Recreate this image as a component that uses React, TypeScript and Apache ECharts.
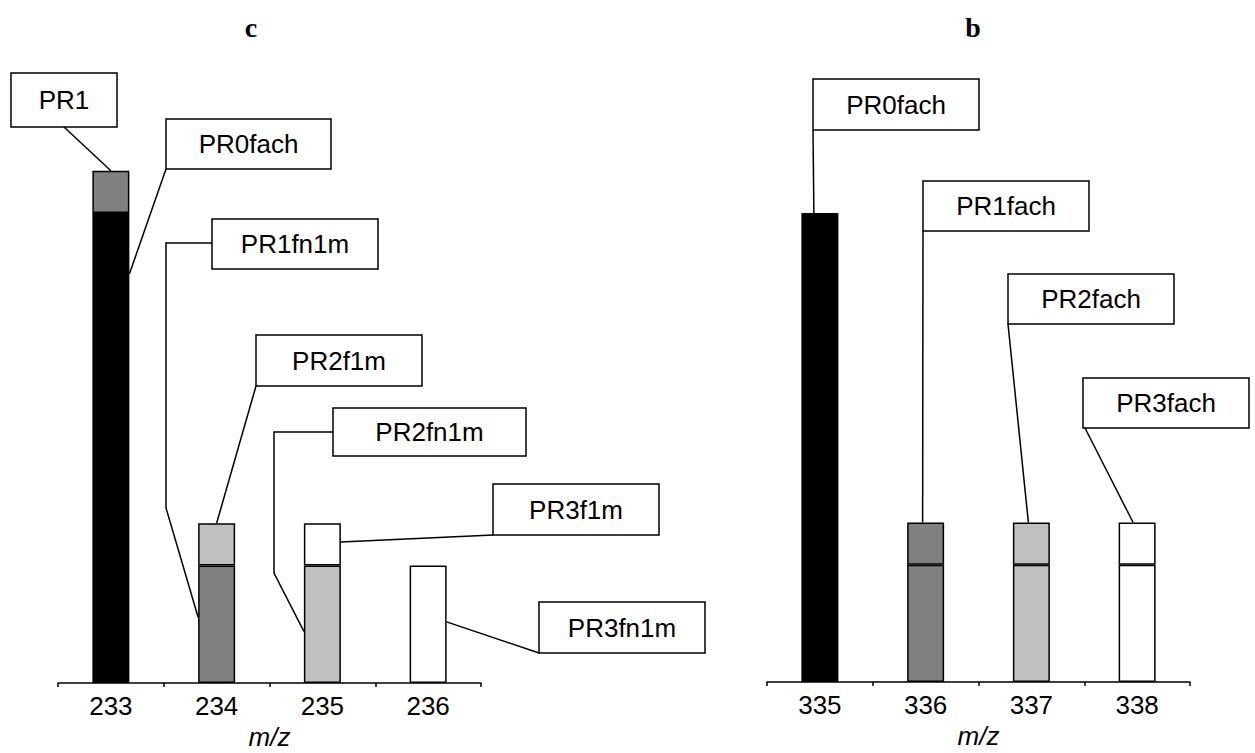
import React, { useEffect, useRef } from "react";
import * as echarts from "echarts";

// ---- data ----
const leftCategories = ["233", "234", "235", "236"];
const rightCategories = ["335", "336", "337", "338"];

// left panel (c) stacked segments
const PR0fach_c = [100, "-", "-", "-"];
const PR1_c = [9, "-", "-", "-"];
const PR1fn1m_c = ["-", 25, "-", "-"];
const PR2f1m_c = ["-", 9, "-", "-"];
const PR2fn1m_c = ["-", "-", 25, "-"];
const PR3f1m_c = ["-", "-", 9, "-"];
const PR3fn1m_c = ["-", "-", "-", 25];

// right panel (b)
const lowerB = [100, 25, 25, 25];
const upperB = ["-", 9, 9, 9];

const Y_MAX = 110;

const FONT = '"Liberation Sans", Arial, sans-serif';
const BLACK = "#000000";
const DARK = "#808080";
const LIGHT = "#c0c0c0";
const WHITE = "#ffffff";
const HALF = 18.5;

// annotation layout: box [x1,y1,x2,y2], leader start points, anchor on a bar (data coords)
const annotations = [
  { text: "PR1", grid: 0, box: [11, 73, 117, 127], pts: [[64, 127]], cat: 0, val: 109, dx: 0 },
  { text: "PR0fach", grid: 0, box: [166, 119, 331, 169], pts: [[166, 169]], cat: 0, val: 87, dx: HALF },
  { text: "PR1fn1m", grid: 0, box: [212, 219, 378, 269], pts: [[212, 243], [166, 243], [166, 508]], cat: 1, val: 14, dx: -HALF },
  { text: "PR2f1m", grid: 0, box: [256, 335, 422, 386], pts: [[256, 386]], cat: 1, val: 34, dx: 0 },
  { text: "PR2fn1m", grid: 0, box: [333, 408, 526, 456], pts: [[333, 432], [274, 432], [274, 573]], cat: 2, val: 11, dx: -HALF },
  { text: "PR3f1m", grid: 0, box: [493, 484, 659, 535], pts: [[493, 535]], cat: 2, val: 30, dx: HALF },
  { text: "PR3fn1m", grid: 0, box: [539, 602, 705, 653], pts: [[539, 653]], cat: 3, val: 13, dx: HALF },
  { text: "PR0fach", grid: 1, box: [813, 79, 979, 130], pts: [[813, 130]], cat: 0, val: 100, dx: -6 },
  { text: "PR1fach", grid: 1, box: [923, 181, 1089, 231], pts: [[923, 231]], cat: 1, val: 34, dx: -3 },
  { text: "PR2fach", grid: 1, box: [1008, 274, 1174, 324], pts: [[1008, 324]], cat: 2, val: 34, dx: -3 },
  { text: "PR3fach", grid: 1, box: [1083, 378, 1249, 428], pts: [[1085, 428]], cat: 3, val: 34, dx: -4 },
];

function barSeries(name: string, data: any[], color: string, xi: number) {
  return {
    name,
    type: "bar",
    stack: "s" + xi,
    xAxisIndex: xi,
    yAxisIndex: xi,
    barWidth: 37,
    data,
    itemStyle: { color, borderColor: "#000", borderWidth: 1.5 },
  };
}

export default function App() {
  const ref = useRef<HTMLDivElement>(null);
  useEffect(() => {
    if (!ref.current) return;
    const chart = echarts.init(ref.current, null, { renderer: "svg" });
    const xAxisBase = (gi: number, cats: string[]) => ({
      type: "category",
      gridIndex: gi,
      data: cats,
      name: "m/z",
      nameLocation: "middle",
      nameGap: 40,
      nameTextStyle: { fontFamily: FONT, fontSize: 26, fontStyle: "italic", color: "#000", lineHeight: 26 },
      axisLine: { lineStyle: { color: "#000", width: 1.5 } },
      axisTick: { show: true, length: 4, lineStyle: { color: "#000", width: 1.5 } },
      axisLabel: { fontFamily: FONT, fontSize: 26, color: "#000", margin: 10 },
    });
    const yAxisBase = (gi: number) => ({
      type: "value",
      gridIndex: gi,
      min: 0,
      max: Y_MAX,
      show: false,
      splitLine: { show: false },
    });
    const colorsB = [BLACK, DARK, LIGHT, WHITE];
    chart.setOption({
      animation: false,
      backgroundColor: "#fff",
      grid: [
        { left: 58, right: 774, top: 166, bottom: 70, outerBoundsMode: "none", containLabel: false },
        { left: 767, right: 65, top: 166, bottom: 71, outerBoundsMode: "none", containLabel: false },
      ],
      xAxis: [xAxisBase(0, leftCategories), xAxisBase(1, rightCategories)],
      yAxis: [yAxisBase(0), yAxisBase(1)],
      series: [
        barSeries("PR0fach", PR0fach_c, BLACK, 0),
        barSeries("PR1", PR1_c, DARK, 0),
        barSeries("PR1fn1m", PR1fn1m_c, DARK, 0),
        barSeries("PR2f1m", PR2f1m_c, LIGHT, 0),
        barSeries("PR2fn1m", PR2fn1m_c, LIGHT, 0),
        barSeries("PR3f1m", PR3f1m_c, WHITE, 0),
        barSeries("PR3fn1m", PR3fn1m_c, WHITE, 0),
        barSeries("lower", lowerB.map((v, i) => ({ value: v, itemStyle: { color: colorsB[i] } })), BLACK, 1),
        barSeries("upper", upperB.map((v, i) => (v === "-" ? "-" : { value: v, itemStyle: { color: colorsB[i] } })), BLACK, 1),
      ],
    });

    const graphics: any[] = [
      {
        type: "text",
        x: 251,
        y: 27,
        style: { text: "c", font: 'bold 28px "Liberation Serif", "Times New Roman", serif', fill: "#000", textAlign: "center", textVerticalAlign: "middle" },
      },
      {
        type: "text",
        x: 973,
        y: 27,
        style: { text: "b", font: 'bold 28px "Liberation Serif", "Times New Roman", serif', fill: "#000", textAlign: "center", textVerticalAlign: "middle" },
      },
    ];
    annotations.forEach((a) => {
      const p = chart.convertToPixel({ gridIndex: a.grid } as any, [a.cat, a.val]) as number[];
      const end = [p[0] + a.dx, p[1]];
      graphics.push({
        type: "polyline",
        shape: { points: [...a.pts, end] },
        style: { stroke: "#000", lineWidth: 1.5, fill: null },
        z: 10,
      });
      const [x1, y1, x2, y2] = a.box;
      graphics.push({
        type: "rect",
        shape: { x: x1, y: y1, width: x2 - x1, height: y2 - y1 },
        style: { fill: "#fff", stroke: "#000", lineWidth: 1.5 },
        z: 11,
      });
      graphics.push({
        type: "text",
        x: (x1 + x2) / 2,
        y: (y1 + y2) / 2,
        style: { text: a.text, font: `26px ${FONT}`, fill: "#000", textAlign: "center", textVerticalAlign: "middle" },
        z: 12,
      });
    });
    chart.setOption({ graphic: graphics });
    return () => chart.dispose();
  }, []);
  return (
    <div
      ref={ref}
      style={{ position: "absolute", left: 0, top: 0, width: 1255, height: 753, background: "#fff" }}
    />
  );
}
